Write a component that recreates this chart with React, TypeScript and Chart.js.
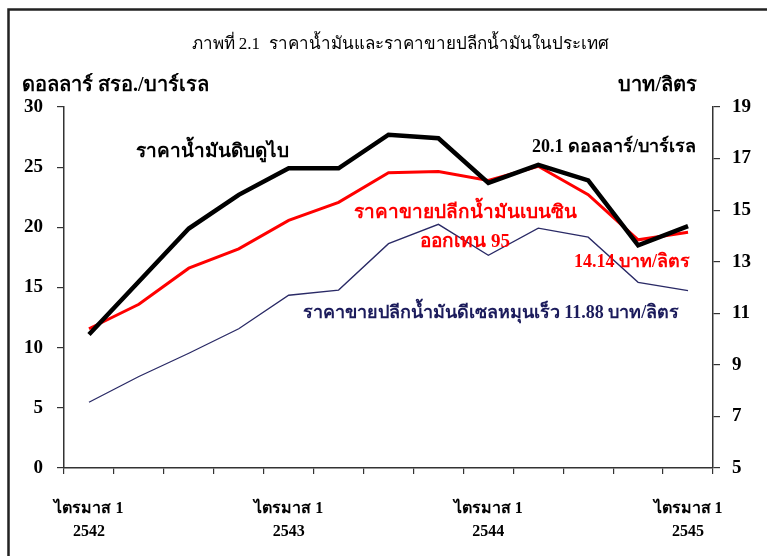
import React, { useEffect, useRef } from "react";
import { Chart, registerables } from "chart.js";

Chart.register(...registerables);

const quarters = [
  "ไตรมาส 1|2542", "Q2 2542", "Q3 2542", "Q4 2542",
  "ไตรมาส 1|2543", "Q2 2543", "Q3 2543", "Q4 2543",
  "ไตรมาส 1|2544", "Q2 2544", "Q3 2544", "Q4 2544",
  "ไตรมาส 1|2545",
];
const dubaiCrude = [11.1, 15.5, 19.9, 22.7, 24.9, 24.9, 27.7, 27.4, 23.7, 25.2, 23.9, 18.5, 20.1];
const gasoline95 = [10.4, 11.35, 12.75, 13.5, 14.6, 15.3, 16.45, 16.5, 16.15, 16.7, 15.6, 13.85, 14.14];
const diesel = [7.55, 8.55, 9.45, 10.4, 11.7, 11.9, 13.7, 14.45, 13.25, 14.3, 13.95, 12.2, 11.88];
const leftTicks = [0, 5, 10, 15, 20, 25, 30];
const rightTicks = [5, 7, 9, 11, 13, 15, 17, 19];

const title = "ภาพที่ 2.1  ราคาน้ำมันและราคาขายปลีกน้ำมันในประเทศ";
const leftAxisTitle = "ดอลลาร์ สรอ./บาร์เรล";
const rightAxisTitle = "บาท/ลิตร";

const SERIF = "'Liberation Serif', 'Times New Roman', serif";

const annotations = [
  { text: "ราคาน้ำมันดิบดูไบ", x: 212, y: 152, color: "#000000", size: 19 },
  { text: "20.1 ดอลลาร์/บาร์เรล", x: 614, y: 147, color: "#000000", size: 18 },
  { text: "ราคาขายปลีกน้ำมันเบนซิน", x: 465, y: 213, color: "#ff0000", size: 19 },
  { text: "ออกเทน 95", x: 465, y: 242, color: "#ff0000", size: 19 },
  { text: "14.14 บาท/ลิตร", x: 632, y: 262, color: "#ff0000", size: 18 },
  { text: "ราคาขายปลีกน้ำมันดีเซลหมุนเร็ว 11.88 บาท/ลิตร", x: 491, y: 313, color: "#1c1c5c", size: 18 },
];

const decorPlugin = {
  id: "decor",
  afterDraw(chart: any) {
    const ctx = chart.ctx;
    ctx.save();
    ctx.strokeStyle = "#222";
    ctx.lineWidth = 2.5;
    ctx.beginPath();
    ctx.moveTo(8.5, 560);
    ctx.lineTo(8.5, 9.5);
    ctx.lineTo(770, 9.5);
    ctx.stroke();

    ctx.fillStyle = "#000";
    ctx.textBaseline = "middle";
    ctx.textAlign = "center";
    ctx.font = `17px ${SERIF}`;
    ctx.fillText(title, 400, 45);

    ctx.font = `bold 20px ${SERIF}`;
    ctx.textAlign = "left";
    ctx.fillText(leftAxisTitle, 22, 86);
    ctx.textAlign = "right";
    ctx.fillText(rightAxisTitle, 697, 86);

    ctx.textAlign = "center";
    for (const a of annotations) {
      ctx.fillStyle = a.color;
      ctx.font = `bold ${a.size}px ${SERIF}`;
      ctx.fillText(a.text, a.x, a.y);
    }
    ctx.restore();
  },
};

export default function App() {
  const ref = useRef<HTMLCanvasElement | null>(null);
  useEffect(() => {
    if (!ref.current) return;
    const chart = new Chart(ref.current, {
      type: "line",
      data: {
        labels: quarters,
        datasets: [
          {
            label: "ราคาน้ำมันดิบดูไบ",
            data: dubaiCrude,
            yAxisID: "yL",
            borderColor: "#000000",
            borderWidth: 4.5,
            pointRadius: 0,
            tension: 0,
          },
          {
            label: "ราคาขายปลีกน้ำมันเบนซินออกเทน 95",
            data: gasoline95,
            yAxisID: "yR",
            borderColor: "#ff0000",
            borderWidth: 3,
            pointRadius: 0,
            tension: 0,
          },
          {
            label: "ราคาขายปลีกน้ำมันดีเซลหมุนเร็ว",
            data: diesel,
            yAxisID: "yR",
            borderColor: "#2a2a66",
            borderWidth: 1.3,
            pointRadius: 0,
            tension: 0,
          },
        ],
      },
      options: {
        animation: false,
        responsive: false,
        maintainAspectRatio: false,
        layout: { padding: { top: 107, left: 0, right: 0, bottom: 0 } },
        plugins: { legend: { display: false }, tooltip: { enabled: false }, title: { display: false } },
        scales: {
          x: {
            type: "category",
            offset: true,
            grid: { display: true, offset: true, drawOnChartArea: false, drawTicks: true, tickLength: 6, color: "#333", lineWidth: 1.2 },
            border: { display: true, color: "#333", width: 1.5 },
            ticks: {
              autoSkip: false,
              maxRotation: 0,
              padding: 24,
              color: "#000",
              font: { family: SERIF, size: 16, weight: "bold", lineHeight: 1.4 },
              callback: (_v: any, i: number) => (i % 4 === 0 ? quarters[i].split("|") : ""),
            },
            afterFit: (s: any) => { s.height = 88; },
          },
          yL: {
            type: "linear",
            position: "left",
            min: 0,
            max: 30,
            afterBuildTicks: (s: any) => { s.ticks = leftTicks.map((v) => ({ value: v })); },
            grid: { display: true, drawOnChartArea: false, drawTicks: true, tickLength: 7, color: "#333", lineWidth: 1.2 },
            border: { display: true, color: "#333", width: 1.5 },
            ticks: { color: "#000", padding: 14, font: { family: SERIF, size: 19, weight: "bold" } },
            afterFit: (s: any) => { s.width = 64; },
          },
          yR: {
            type: "linear",
            position: "right",
            min: 5,
            max: 19,
            afterBuildTicks: (s: any) => { s.ticks = rightTicks.map((v) => ({ value: v })); },
            grid: { display: true, drawOnChartArea: false, drawTicks: true, tickLength: 7, color: "#333", lineWidth: 1.2 },
            border: { display: true, color: "#333", width: 1.5 },
            ticks: { color: "#000", padding: 12, font: { family: SERIF, size: 19, weight: "bold" } },
            afterFit: (s: any) => { s.width = 54; },
          },
        },
      },
      plugins: [decorPlugin],
    } as any);
    return () => chart.destroy();
  }, []);
  return (
    <div style={{ position: "fixed", left: 0, top: 0, width: 767, height: 556, background: "#fff" }}>
      <canvas ref={ref} width={767} height={556} style={{ width: 767, height: 556, display: "block" }} />
    </div>
  );
}
